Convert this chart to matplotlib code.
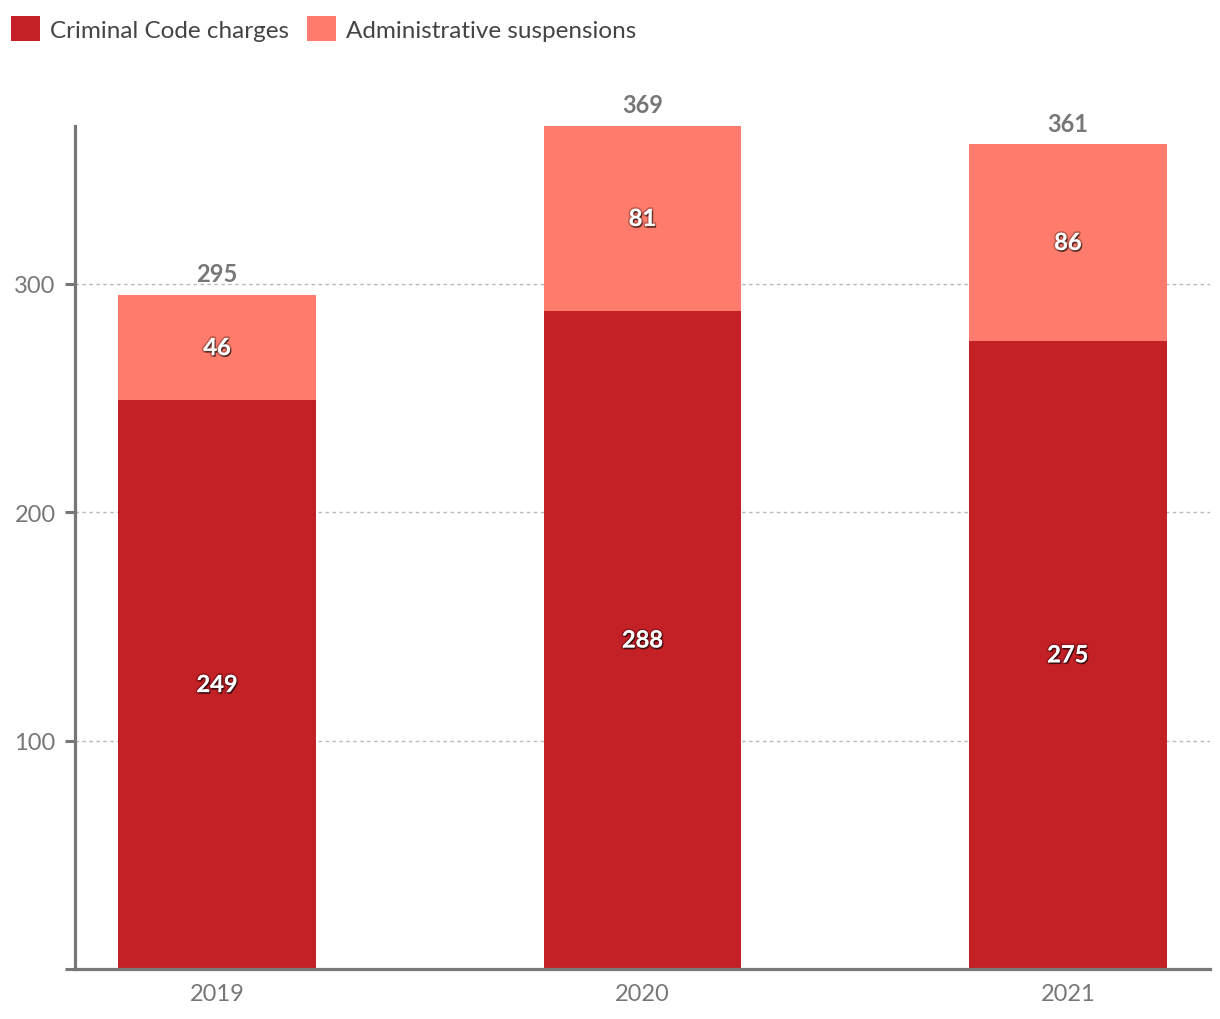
import matplotlib.pyplot as plt
import matplotlib.patheffects as pe
import numpy as np

plt.rcParams['font.family'] = ['Lato', 'DejaVu Sans']

years = ['2019', '2020', '2021']
criminal = [249, 288, 275]
admin = [46, 81, 86]
series_names = ['Criminal Code charges', 'Administrative suspensions']

DARK = '#C42127'
LIGHT = '#FF7B6B'
GREY = '#777777'

fig = plt.figure(figsize=(12.2, 10.2), dpi=100)
ax = fig.add_axes([0.0615, 0.049, 0.9303, 0.8265])

x = np.arange(len(years))
width = 0.465
totals = [c + a for c, a in zip(criminal, admin)]

b1 = ax.bar(x, criminal, width, color=DARK, label=series_names[0], zorder=3)
b2 = ax.bar(x, admin, width, bottom=criminal, color=LIGHT, label=series_names[1], zorder=3)

# white labels with a soft dark shadow
shadow = [pe.withStroke(linewidth=2.5, foreground=(0, 0, 0, 0.25)),
          pe.SimplePatchShadow(offset=(0.8, -1.2), shadow_rgbFace='black', alpha=0.55),
          pe.Normal()]
for i in range(len(years)):
    ax.text(x[i], criminal[i] / 2, str(criminal[i]), ha='center', va='center',
            color='white', fontsize=17, fontweight='bold', path_effects=shadow, zorder=4)
    ax.text(x[i], criminal[i] + admin[i] / 2, str(admin[i]), ha='center', va='center',
            color='white', fontsize=17, fontweight='bold', path_effects=shadow, zorder=4)
    ax.annotate(str(totals[i]), (x[i], totals[i]), xytext=(0, 7), textcoords='offset points',
                ha='center', va='bottom', color=GREY, fontsize=17, fontweight='bold')

ax.set_xlim(-0.334, 2.334)
ax.set_ylim(0, 369)
ax.set_xticks(x)
ax.set_xticklabels(years)
ax.set_yticks([0, 100, 200, 300])
ax.set_yticklabels(['', '100', '200', '300'])
ax.tick_params(axis='x', length=0, pad=10, labelsize=17, labelcolor=GREY)
ax.tick_params(axis='y', length=7, width=2.2, color=GREY, pad=7, labelsize=17, labelcolor=GREY)

ax.grid(axis='y', linestyle=(0, (2.5, 2.5)), color='#b8b8b8', linewidth=1, zorder=0)
for side in ['top', 'right']:
    ax.spines[side].set_visible(False)
for side in ['left', 'bottom']:
    ax.spines[side].set_color(GREY)
    ax.spines[side].set_linewidth(2.3)
    ax.spines[side].set_zorder(5)

fig.legend(handles=[b1, b2], labels=series_names, loc='upper left', bbox_to_anchor=(0.0, 0.994),
           ncol=2, frameon=False, fontsize=17.5, handlelength=1.2, handleheight=1.2,
           handletextpad=0.4, columnspacing=0.75, borderpad=0.45, borderaxespad=0.0,
           labelcolor='#444444')

fig.savefig('out.png', dpi=100)
